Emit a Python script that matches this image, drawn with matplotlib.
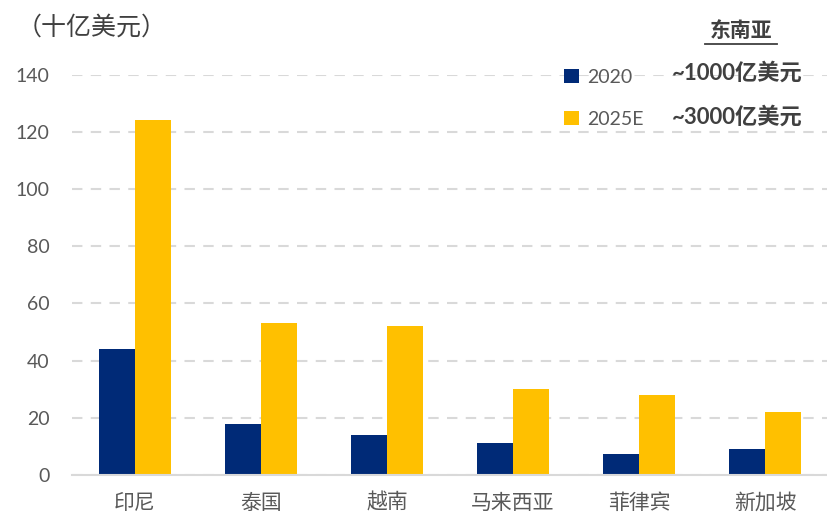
import matplotlib
matplotlib.use("Agg")
import matplotlib.pyplot as plt
import numpy as np

categories = ["印尼", "泰国", "越南", "马来西亚", "菲律宾", "新加坡"]
values_2020 = [44, 18, 14, 11.2, 7.5, 9]
values_2025 = [124, 53, 52, 30, 28, 22]
series_names = ["2020", "2025E"]
yticks = [0, 20, 40, 60, 80, 100, 120, 140]

plt.rcParams['font.family'] = ['Lato', 'Noto Sans CJK SC', 'DejaVu Sans']
cjk = ['Noto Sans CJK SC', 'DejaVu Sans']

fig = plt.figure(figsize=(8.28, 5.18), dpi=100)
ax = fig.add_axes([0.087, 0.083, 0.913, 0.773])

x = np.arange(len(categories))
w = 0.288
c1, c2 = "#002A77", "#FFC000"
ax.bar(x - w/2, values_2020, width=w, color=c1, label=series_names[0], zorder=3)
ax.bar(x + w/2, values_2025, width=w, color=c2, label=series_names[1], zorder=3)

ax.set_xlim(-0.5, len(categories) - 0.5)
ax.set_ylim(0, 140)
ax.set_yticks(yticks)
ax.yaxis.grid(True, linestyle=(0, (5, 4)), color="#D9D9D9", linewidth=1.5, zorder=0)
ax.set_axisbelow(True)
for s in ["top", "right", "left"]:
    ax.spines[s].set_visible(False)
ax.spines["bottom"].set_color("#D9D9D9")
ax.spines["bottom"].set_linewidth(1.5)
ax.spines["bottom"].set_zorder(4)
ax.tick_params(axis="both", length=0, labelsize=14, colors="#595959")
ax.tick_params(axis="y", pad=16)
ax.tick_params(axis="x", pad=12)
ax.set_xticks(x)
ax.set_xticklabels(categories, fontfamily=cjk, fontsize=15, color="#595959")

fig.text(0.02, 0.946, "（十亿美元）", fontfamily=cjk, fontsize=18, color="#404040", va="center")

leg = ax.legend(loc="upper left", bbox_to_anchor=(0.628, 1.058), frameon=False,
                fontsize=14, handlelength=0.75, handleheight=0.75, handletextpad=0.4,
                labelspacing=1.3, labelcolor="#595959")

fig.text(0.895, 0.942, "东南亚", fontfamily=cjk, fontsize=15, fontweight="bold",
         color="#404040", ha="center", va="center")
fig.add_artist(plt.Line2D([0.851, 0.939], [0.915, 0.915],
                          color="#404040", linewidth=1.3, transform=fig.transFigure))
fig.text(0.812, 0.859, "~1000亿美元", fontsize=16, fontweight="bold", color="#404040",
         va="center", family=['Lato', 'Noto Sans CJK SC'])
fig.text(0.812, 0.774, "~3000亿美元", fontsize=16, fontweight="bold", color="#404040",
         va="center", family=['Lato', 'Noto Sans CJK SC'])

fig.savefig("out.png", dpi=100)
